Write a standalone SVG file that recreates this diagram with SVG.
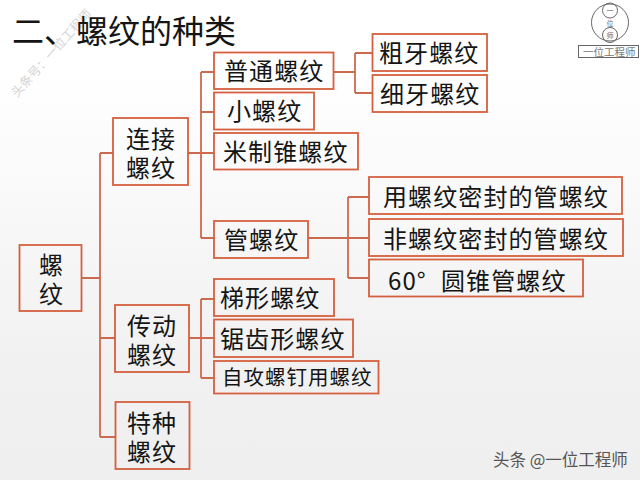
<svg xmlns="http://www.w3.org/2000/svg" width="640" height="480" viewBox="0 0 640 480">
<style>
text{font-family:"Noto Sans CJK SC","Noto Sans CJK JP",sans-serif;fill:#151515;font-size:24px;letter-spacing:1.1px}
.b{fill:none;stroke:#d5603f;stroke-width:1.800}
.c{fill:none;stroke:#cc6a50;stroke-width:1.800}
.w{font-size:12.500px;fill:#d4d4d4;letter-spacing:0}
.l{stroke:#666;stroke-width:1;fill:none}
.g{font-size:7px;fill:#666;letter-spacing:0;text-anchor:middle}
</style>
<defs>
<linearGradient id="bg" x1="0" y1="0" x2="0" y2="1"><stop offset="0.15" stop-color="#ffffff"/><stop offset="0.75" stop-color="#f1f1f1"/><stop offset="1" stop-color="#efefef"/></linearGradient>
</defs>
<rect width="640" height="480" fill="url(#bg)"/>
<g id="watermark"><text class="w" transform="translate(17,98) rotate(-48)">头条号：一位工程师</text></g>
<g id="title"><text x="12" y="43" style="font-size:32px;letter-spacing:0">二、螺纹的种类</text></g>
<g id="logo">
<circle cx="610" cy="22.500" r="18.500" class="l"/><circle cx="610" cy="10.500" r="7.500" class="l"/><circle cx="610" cy="35" r="7.500" class="l"/>
<text class="g" x="610" y="13">一</text><text class="g" x="610" y="25.500">位</text><text class="g" x="610" y="37.500">师</text>
<rect x="578.500" y="45.500" width="60" height="12" class="l"/>
<text x="583" y="55.500" style="font-size:10.500px;letter-spacing:0;fill:#777">一位工程师</text>
</g>
<g id="connectors">
<path class="c" d="M81 278H100M100 153V437M100 153H113M100 338H115M100 437H115"/>
<path class="c" d="M188 153H214M201 72V238M201 72H214M201 112H214M201 238H214"/>
<path class="c" d="M189 338H214M201 299V378M201 299H214M201 378H214"/>
<path class="c" d="M333 72H355M355 53V93M355 53H373M355 93H373"/>
<path class="c" d="M308 238H348M348 197V278M348 197H369M348 238H369M348 278H369"/>
</g>
<g id="n1"><rect class="b" x="19.500" y="245" width="62" height="66"/><text x="39" y="274">螺</text><text x="39" y="303">纹</text></g>
<g id="n2"><rect class="b" x="113" y="118" width="75" height="67"/><text x="126" y="148">连接</text><text x="126" y="177">螺纹</text></g>
<g id="n3"><rect class="b" x="115" y="305" width="74" height="67"/><text x="127" y="335">传动</text><text x="127" y="364">螺纹</text></g>
<g id="n4"><rect class="b" x="115.500" y="402" width="74" height="67"/><text x="127" y="432">特种</text><text x="127" y="461">螺纹</text></g>
<g id="n5"><rect class="b" x="214" y="52.500" width="119.500" height="36.500"/><text x="224" y="80">普通螺纹</text></g>
<g id="n6"><rect class="b" x="214" y="92.500" width="100" height="37"/><text x="227" y="120">小螺纹</text></g>
<g id="n7"><rect class="b" x="214" y="133" width="144" height="36.500"/><text x="223" y="161">米制锥螺纹</text></g>
<g id="n8"><rect class="b" x="214" y="221" width="94" height="37"/><text x="224" y="249">管螺纹</text></g>
<g id="n9"><rect class="b" x="214" y="279" width="120" height="37"/><text x="220" y="307">梯形螺纹</text></g>
<g id="n10"><rect class="b" x="214" y="319.500" width="139" height="37.500"/><text x="220" y="348">锯齿形螺纹</text></g>
<g id="n11"><rect class="b" x="214" y="361" width="164.500" height="32.500"/><text x="222" y="385" style="font-size:20.500px;letter-spacing:1px">自攻螺钉用螺纹</text></g>
<g id="n12"><rect class="b" x="372.500" y="34" width="114.500" height="37"/><text x="379" y="62">粗牙螺纹</text></g>
<g id="n13"><rect class="b" x="372.500" y="75" width="114.500" height="37"/><text x="380" y="103">细牙螺纹</text></g>
<g id="n14"><rect class="b" x="369" y="177" width="253" height="37"/><text x="383" y="206">用螺纹密封的管螺纹</text></g>
<g id="n15"><rect class="b" x="369" y="219" width="254" height="37"/><text x="383" y="248">非螺纹密封的管螺纹</text></g>
<g id="n16"><rect class="b" x="369" y="259.500" width="214" height="37"/><text x="388" y="290">60°</text><text x="441" y="290">圆锥管螺纹</text></g>
<g id="brand"><text x="493" y="466" style="font-size:16.500px;letter-spacing:0;fill:#555">头条 @一位工程师</text></g>
</svg>
